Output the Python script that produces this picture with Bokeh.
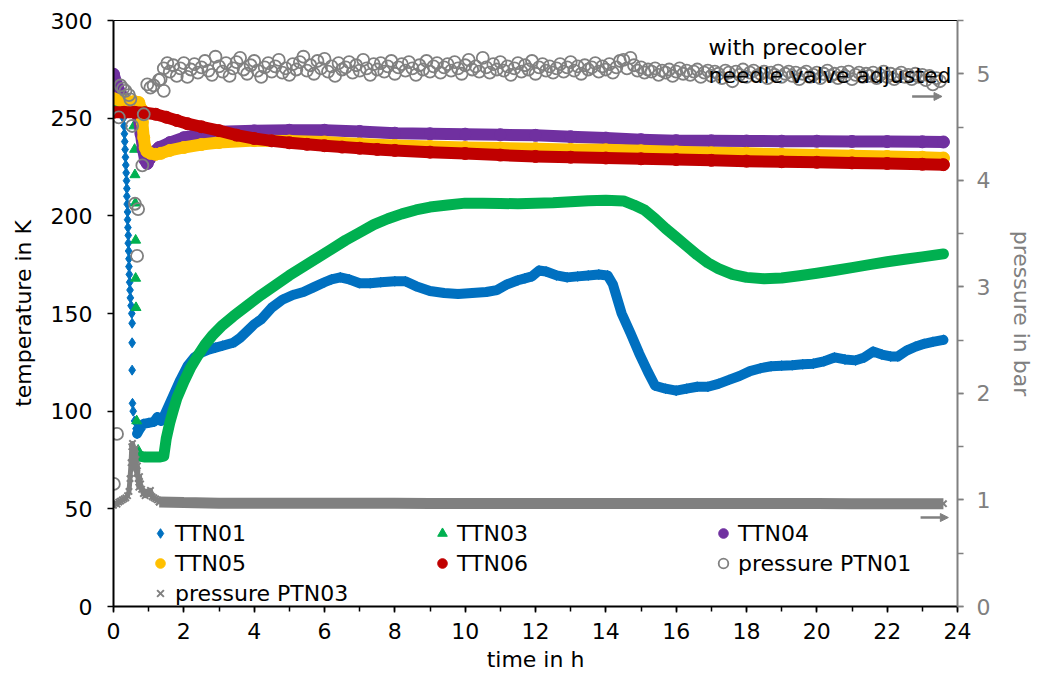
from bokeh.plotting import figure
from bokeh.models import (Range1d, LinearAxis, Legend, LegendItem, Arrow, NormalHead,
                          Label, SingleIntervalTicker, FixedTicker)
from bokeh.embed import file_html
from bokeh.resources import INLINE

FONT = "DejaVu Sans"
FS = "22px"
BLUE = "#0070C0"
GREEN = "#00B050"
PURPLE = "#7030A0"
YELLOW = "#FFC000"
RED = "#C00000"
GRAY = "#808080"

# ---------------- data ----------------
# TTN01: initial cool-down samples
ttn01_drop_t = [0.00, 0.05, 0.10, 0.15, 0.20, 0.24, 0.28, 0.30, 0.31, 0.32, 0.33, 0.34, 0.35,
                0.36, 0.37, 0.38, 0.38, 0.39, 0.40, 0.40, 0.41, 0.42, 0.42, 0.43, 0.44, 0.44,
                0.45, 0.46, 0.47, 0.48, 0.50, 0.52, 0.53, 0.53, 0.53, 0.54, 0.56, 0.60, 0.64]
ttn01_drop_v = [263, 263, 262, 261, 258, 255, 250, 246, 242, 238, 234, 230, 226,
                222, 218, 214, 210, 206, 202, 198, 194, 190, 186, 182, 178, 174,
                170, 166, 162, 158, 154, 150, 145, 135, 121, 104, 100, 95, 91]
# TTN01: rest of the run
ttn01_t = [0.67, 0.75, 0.85, 1.0, 1.15, 1.25, 1.35, 1.45, 1.55, 1.7,
           1.9, 2.1, 2.3, 2.5, 2.7, 2.9, 3.1, 3.4, 3.6, 3.8,
           4.0, 4.2, 4.5, 4.8, 5.1, 5.4, 5.7, 6.0, 6.2, 6.45,
           6.7, 7.0, 7.3, 7.6, 8.0, 8.3, 8.6, 9.0, 9.4, 9.8,
           10.2, 10.6, 10.9, 11.2, 11.5, 11.7, 11.9, 12.1, 12.3, 12.6,
           12.9, 13.2, 13.5, 13.8, 14.05, 14.2, 14.45, 14.7, 14.95, 15.2,
           15.4, 15.7, 16.0, 16.3, 16.6, 16.9, 17.2, 17.5, 17.8, 18.1,
           18.4, 18.7, 19.0, 19.3, 19.6, 19.9, 20.2, 20.5, 20.8, 21.1,
           21.35, 21.6, 21.85, 22.1, 22.3, 22.55, 22.8, 23.05, 23.3, 23.6]
ttn01_v = [88.5, 91, 93.5, 94, 94.5, 97, 95, 98, 102, 108,
           116, 123, 127.5, 130, 131.5, 132.5, 133.5, 135, 137.5, 141,
           144.5, 147, 153, 157, 159.5, 161, 163.5, 166, 167.5, 168.5,
           167.5, 165.5, 165.5, 166, 166.5, 166.5, 164, 161.5, 160.5, 160,
           160.5, 161, 162, 165, 167, 168, 169, 172, 171.5, 169.5,
           168.5, 169, 169.5, 170, 169.5, 165, 150, 140, 129.5, 120,
           113, 111.5, 110.5, 111.5, 112.5, 112.5, 114, 116, 118, 120.5,
           122, 123, 123.3, 123.5, 124, 124.3, 125.5, 127.5, 126.5, 126,
           127.5, 130.5, 129, 128, 128, 131, 133, 134.5, 135.5, 136.5]

# TTN03
ttn03_drop_t = [0.00, 0.05, 0.10, 0.20, 0.30, 0.40, 0.50, 0.58, 0.60, 0.61, 0.62, 0.63, 0.63,
                0.64, 0.66, 0.70]
ttn03_drop_v = [258, 257.5, 257, 256.5, 256, 255.5, 255, 246, 234, 221, 206.5, 187.5, 168,
                153, 95, 80]
ttn03_t = [0.74, 0.9, 1.1, 1.3, 1.43, 1.5, 1.6, 1.7, 1.8, 2.0,
           2.2, 2.4, 2.6, 2.8, 3.1, 3.4, 3.8, 4.2, 4.6, 5.0,
           5.4, 5.8, 6.2, 6.6, 7.0, 7.4, 7.8, 8.2, 8.6, 9.0,
           9.5, 10.0, 10.5, 11.0, 11.5, 12.0, 12.5, 13.0, 13.5, 14.0,
           14.5, 14.8, 15.1, 15.4, 15.7, 16.0, 16.3, 16.6, 16.9, 17.2,
           17.6, 18.0, 18.5, 19.0, 19.5, 20.0, 20.5, 21.0, 21.5, 22.0,
           22.5, 23.0, 23.6]
ttn03_v = [77, 76.5, 76.5, 76.5, 77, 86, 94, 100.5, 106.5, 115,
           122.5, 128.5, 134, 138.5, 144, 148.5, 154, 159.5, 164.5, 169.5,
           174, 178.5, 183, 187.5, 191.5, 195.5, 198.5, 201, 203, 204.5,
           205.5, 206.5, 206.5, 206.3, 206.2, 206.5, 206.7, 207.2, 207.7, 208,
           207.6, 205.5, 203, 198.5, 193.5, 189, 184.5, 180, 176, 173,
           170, 168.5, 167.8, 168.2, 169.3, 170.6, 172, 173.5, 175, 176.5,
           177.8, 179, 180.5]

# TTN04
ttn04_t = [0.0, 0.1, 0.2, 0.3, 0.4, 0.5, 0.6, 0.68, 0.72, 0.78,
           0.84, 0.9, 0.96, 1.02, 1.1, 1.3, 1.6, 2.0, 2.5, 3.0,
           4.0, 5.0, 6.0, 7.0, 8.0, 9.0, 10.0, 11.0, 12.0, 13.0,
           14.0, 15.0, 16.0, 17.0, 18.0, 19.0, 20.0, 21.0, 22.0, 23.0, 23.6]
ttn04_v = [272.5, 267, 262.5, 260, 258, 256.5, 255, 253, 250, 242,
           234, 228.5, 226.8, 229, 232, 235, 237.5, 240, 242, 243,
           243.5, 243.8, 243.8, 243.2, 242.3, 242, 241.8, 241.5, 241.2, 240.5,
           239.8, 239, 238.5, 238.4, 238.3, 238.2, 238.2, 238.1, 238, 237.9, 237.8]

# TTN05
ttn05_t = [0.0, 0.2, 0.4, 0.6, 0.72, 0.78, 0.82, 0.86, 0.9, 0.95,
           1.05, 1.2, 1.35, 1.6, 2.0, 2.5, 3.0, 4.0, 5.0, 6.0,
           7.0, 8.0, 9.0, 10.0, 11.0, 12.0, 13.0, 14.0, 15.0, 16.0,
           17.0, 18.0, 19.0, 20.0, 21.0, 22.0, 23.0, 23.6]
ttn05_v = [260, 259, 258.5, 258.5, 258, 255, 248, 240, 235, 233,
           232, 231.5, 232, 233.5, 235, 236.5, 237.5, 238.5, 238.3, 237.8,
           236.8, 236, 235.5, 235, 234.7, 234.4, 234, 233.8, 233.3, 232.8,
           232.3, 232, 231.5, 231.2, 230.8, 230.4, 230, 229.6]

# TTN06
ttn06_t = [0.0, 0.3, 0.6, 0.9, 1.2, 1.5, 1.8, 2.1, 2.5, 3.0,
           3.5, 4.0, 4.5, 5.0, 5.5, 6.0, 6.5, 7.0, 7.5, 8.0,
           9.0, 10.0, 11.0, 12.0, 13.0, 14.0, 15.0, 16.0, 17.0, 18.0,
           19.0, 20.0, 21.0, 22.0, 23.0, 23.6]
ttn06_v = [253, 253, 253, 252.8, 252, 250.5, 248.8, 247.2, 245.6, 243.6,
           241.3, 239.6, 238.4, 237.4, 236.6, 235.9, 235.2, 234.6, 234, 233.5,
           232.6, 231.9, 231.1, 230.4, 230, 229.6, 229.2, 228.8, 228.4, 228,
           227.7, 227.4, 227.1, 226.8, 226.4, 226.2]

# pressure PTN01 (bar): start-up samples
ptn01_start_t = [0.01, 0.10, 0.15, 0.20, 0.27, 0.34, 0.44, 0.48, 0.53, 0.61, 0.67,
                 0.70, 0.82, 0.86, 0.96, 1.05, 1.14, 1.29, 1.34, 1.43, 1.43, 1.53]
ptn01_start_p = [1.15, 1.62, 4.59, 4.89, 4.86, 4.84, 4.80, 4.76, 4.51, 3.78, 3.29,
                 3.73, 4.14, 4.62, 4.90, 4.87, 4.89, 4.94, 4.95, 4.84, 5.05, 5.10]
# pressure PTN01: samples every 0.1 h from 1.6 h
PTN01_T0 = 1.6
PTN01_DT = 0.1
ptn01_p = [5.02, 5.08, 4.98, 5.05, 5.10, 4.97, 5.04, 5.09, 5.01, 5.06,
           5.12, 5.03, 4.99, 5.16, 5.07, 5.02, 5.10, 4.98, 5.05, 5.11,
           5.15, 5.04, 5.00, 5.08, 5.12, 5.03, 4.97, 5.06, 5.10, 5.02,
           5.07, 5.13, 5.01, 5.05, 4.99, 5.09, 5.04, 5.11, 5.16, 5.03,
           5.08, 5.00, 5.12, 5.05, 5.14, 5.02, 5.07, 4.98, 5.10, 5.04,
           5.06, 5.11, 5.01, 5.08, 5.03, 5.13, 5.05, 4.99, 5.09, 5.04,
           5.10, 5.02, 5.07, 5.12, 5.00, 5.06, 5.09, 5.03, 5.11, 5.05,
           4.99, 5.08, 5.04, 5.12, 5.02, 5.07, 5.10, 5.01, 5.06, 5.09,
           5.03, 5.11, 5.05, 5.00, 5.08, 5.13, 5.04, 5.07, 5.02, 5.15,
           5.06, 5.01, 5.09, 5.04, 5.11, 5.03, 5.07, 4.99, 5.05, 5.10,
           5.02, 5.08, 5.04, 5.12, 5.00, 5.06, 5.09, 5.03, 5.07, 5.01,
           5.05, 5.09, 5.02, 5.06, 5.11, 5.03, 5.07, 5.00, 5.08, 5.04,
           5.06, 5.10, 5.02, 5.07, 5.04, 5.09, 5.01, 5.06, 5.12, 5.13,
           5.05, 5.15, 5.08, 5.03, 5.06, 5.01, 5.04, 5.02, 5.05, 4.99,
           5.03, 5.01, 5.04, 4.98, 5.02, 5.05, 5.00, 5.03, 4.99, 5.02,
           5.04, 4.97, 5.01, 5.03, 4.98, 5.02, 5.00, 4.96, 5.03, 5.01,
           4.93, 5.02, 4.99, 5.04, 4.97, 5.01, 5.03, 4.98, 5.00, 5.02,
           4.96, 5.01, 4.99, 5.03, 4.97, 5.00, 5.02, 4.98, 5.01, 4.95,
           5.00, 5.02, 4.97, 4.99, 5.01, 4.96, 5.00, 5.03, 4.98, 5.00,
           4.96, 5.01, 4.98, 5.02, 4.95, 4.99, 5.01, 4.97, 5.00, 4.98,
           5.01, 4.96, 4.99, 5.02, 4.97, 5.00, 4.95, 4.99, 5.01, 4.97,
           4.99, 4.95, 5.00, 4.97, 4.99, 4.94, 4.98, 4.90, 4.96, 4.93]
ptn01_t = [round(PTN01_T0 + PTN01_DT * i, 2) for i in range(len(ptn01_p))]

# pressure PTN03 (bar)
ptn03_start_t = [0.00, 0.05, 0.10, 0.15, 0.20, 0.25, 0.30, 0.35, 0.40,
                 0.44, 0.47, 0.50, 0.52, 0.54, 0.56, 0.58, 0.60, 0.62, 0.64,
                 0.66, 0.68, 0.70, 0.72, 0.74, 0.77, 0.80, 0.85, 0.90, 0.95,
                 1.00, 1.05, 1.10, 1.15, 1.20, 1.25, 1.30]
ptn03_start_p = [0.95, 0.97, 0.96, 0.98, 0.99, 1.00, 1.01, 1.02, 1.04,
                 1.08, 1.20, 1.35, 1.50, 1.53, 1.45, 1.30, 1.42, 1.48, 1.38,
                 1.25, 1.32, 1.20, 1.12, 1.22, 1.15, 1.10, 1.06, 1.04, 1.08,
                 1.05, 1.09, 1.03, 1.02, 1.01, 1.00, 0.98]
ptn03_t = [1.3, 2, 3, 4, 5, 6, 7, 8, 9, 10, 11, 12, 13, 14, 15, 16, 17, 18, 19, 20,
           21, 22, 23, 23.6]
ptn03_p = [0.98, 0.975, 0.97, 0.97, 0.97, 0.968, 0.968, 0.968, 0.967, 0.967, 0.967,
           0.967, 0.967, 0.967, 0.966, 0.966, 0.966, 0.966, 0.966, 0.966, 0.965, 0.965,
           0.965, 0.965]

# axes / annotations
X_RANGE = (0, 24)
T_RANGE = (0, 300)
P_RANGE = (0, 5.5)
NOTE_X = 16.92
NOTE_LINES = [("with precooler", 286.2), ("needle valve adjusted", 271.8)]
ARROWS = [(22.71, 23.56, 4.787), (22.95, 23.74, 0.835)]

# ---------------- figure ----------------
p = figure(width=1041, height=679, output_backend="svg", toolbar_location=None,
           x_range=Range1d(*X_RANGE), y_range=Range1d(*T_RANGE),
           min_border_left=113, min_border_right=84, min_border_top=20,
           min_border_bottom=73, background_fill_color="white",
           border_fill_color="white", outline_line_color=None)
p.extra_y_ranges = {"p": Range1d(*P_RANGE)}
p.xgrid.visible = False
p.ygrid.visible = False

# TTN01
p.line(ttn01_t, ttn01_v, line_color=BLUE, line_width=10, line_cap="round", line_join="round")
p.scatter(ttn01_t, ttn01_v, marker="diamond", size=10, fill_color=BLUE, line_color=BLUE)
r01 = p.scatter(ttn01_drop_t, ttn01_drop_v, marker="diamond", size=10, fill_color=BLUE,
                line_color=BLUE)
# TTN03
p.line(ttn03_t, ttn03_v, line_color=GREEN, line_width=11, line_cap="round", line_join="round")
r03 = p.scatter(ttn03_drop_t, ttn03_drop_v, marker="triangle", size=10, fill_color=GREEN,
                line_color=GREEN)
# TTN04
p.line(ttn04_t, ttn04_v, line_color=PURPLE, line_width=12, line_cap="round", line_join="round")
r04 = p.scatter(ttn04_t, ttn04_v, marker="circle", size=12, fill_color=PURPLE, line_color=PURPLE)
# TTN05
p.line(ttn05_t, ttn05_v, line_color=YELLOW, line_width=12, line_cap="round", line_join="round")
r05 = p.scatter(ttn05_t, ttn05_v, marker="circle", size=12, fill_color=YELLOW, line_color=YELLOW)
# TTN06
p.line(ttn06_t, ttn06_v, line_color=RED, line_width=12, line_cap="round", line_join="round")
r06 = p.scatter(ttn06_t, ttn06_v, marker="circle", size=12, fill_color=RED, line_color=RED)
# PTN01
rp1 = p.scatter(ptn01_start_t, ptn01_start_p, marker="circle", size=12, fill_color=None,
                line_color=GRAY, line_width=1.8, y_range_name="p")
p.scatter(ptn01_t, ptn01_p, marker="circle", size=12, fill_color=None,
          line_color=GRAY, line_width=1.8, y_range_name="p")
# PTN03
p.line(ptn03_start_t, ptn03_start_p, line_color=GRAY, line_width=5, line_join="round",
       y_range_name="p")
p.line(ptn03_t, ptn03_p, line_color=GRAY, line_width=11, y_range_name="p")
rp3 = p.scatter(ptn03_start_t, ptn03_start_p, marker="x", size=9, line_color=GRAY,
                line_width=2, y_range_name="p")
p.scatter(ptn03_t, ptn03_p, marker="x", size=9, line_color=GRAY, line_width=2,
          y_range_name="p")

# ---------------- axes ----------------
def style_axis(ax, color):
    ax.axis_line_color = color
    ax.axis_line_width = 2
    ax.major_tick_line_color = color
    ax.minor_tick_line_color = color
    ax.major_tick_line_width = 1.5
    ax.minor_tick_line_width = 1.5
    ax.major_tick_in = 0
    ax.minor_tick_in = 0
    ax.major_label_text_font = FONT
    ax.major_label_text_font_size = FS
    ax.major_label_text_color = color
    ax.axis_label_text_font = FONT
    ax.axis_label_text_font_size = FS
    ax.axis_label_text_font_style = "normal"
    ax.axis_label_text_color = color

xa = p.xaxis[0]
style_axis(xa, "black")
xa.ticker = SingleIntervalTicker(interval=2, num_minor_ticks=2)
xa.major_tick_out = 6
xa.minor_tick_out = 5
xa.major_label_standoff = 10
xa.axis_label = "time in h"
xa.axis_label_standoff = 5

ya = p.yaxis[0]
style_axis(ya, "black")
ya.ticker = SingleIntervalTicker(interval=50, num_minor_ticks=0)
ya.major_tick_out = 6
ya.minor_tick_out = 0
ya.major_label_standoff = 15
ya.axis_label = "temperature in K"
ya.axis_label_standoff = 12

ra = LinearAxis(y_range_name="p")
style_axis(ra, GRAY)
ra.ticker = SingleIntervalTicker(interval=1, num_minor_ticks=2)
ra.major_tick_out = 6
ra.minor_tick_out = 6
ra.major_label_standoff = 13
ra.axis_label = "pressure in bar"
ra.axis_label_standoff = 16
p.add_layout(ra, "right")

top = LinearAxis(ticker=FixedTicker(ticks=[]), axis_line_color="black", axis_line_width=1.2,
                 major_tick_out=0, minor_tick_out=0, major_label_text_font_size="0px")
p.add_layout(top, "above")

# ---------------- annotations ----------------
for txt, yv in NOTE_LINES:
    p.add_layout(Label(x=NOTE_X, y=yv, text=txt, text_font=FONT, text_font_size=FS,
                       text_color="black", text_baseline="alphabetic"))
for x0, x1, yv in ARROWS:
    p.add_layout(Arrow(end=NormalHead(size=8, fill_color=GRAY, line_color=GRAY),
                       x_start=x0, y_start=yv, x_end=x1, y_end=yv, line_color=GRAY,
                       line_width=2.5, y_range_name="p"))

# ---------------- legend (three columns) ----------------
def make_legend(items, x, y):
    lg = Legend(items=[LegendItem(label=l, renderers=[r]) for l, r in items],
                location=(x, y), orientation="vertical", glyph_width=24, glyph_height=30,
                label_standoff=3, spacing=0, padding=0, margin=0,
                background_fill_alpha=0, border_line_alpha=0,
                label_text_font=FONT, label_text_font_size=FS, label_text_color="black")
    p.add_layout(lg)

make_legend([("TTN01", r01), ("TTN05", r05), ("pressure PTN03", rp3)], 35, -2)
make_legend([("TTN03", r03), ("TTN06", r06)], 317, 28)
make_legend([("TTN04", r04), ("pressure PTN01", rp1)], 598, 28)

open("out.html", "w").write(file_html(p, INLINE))
